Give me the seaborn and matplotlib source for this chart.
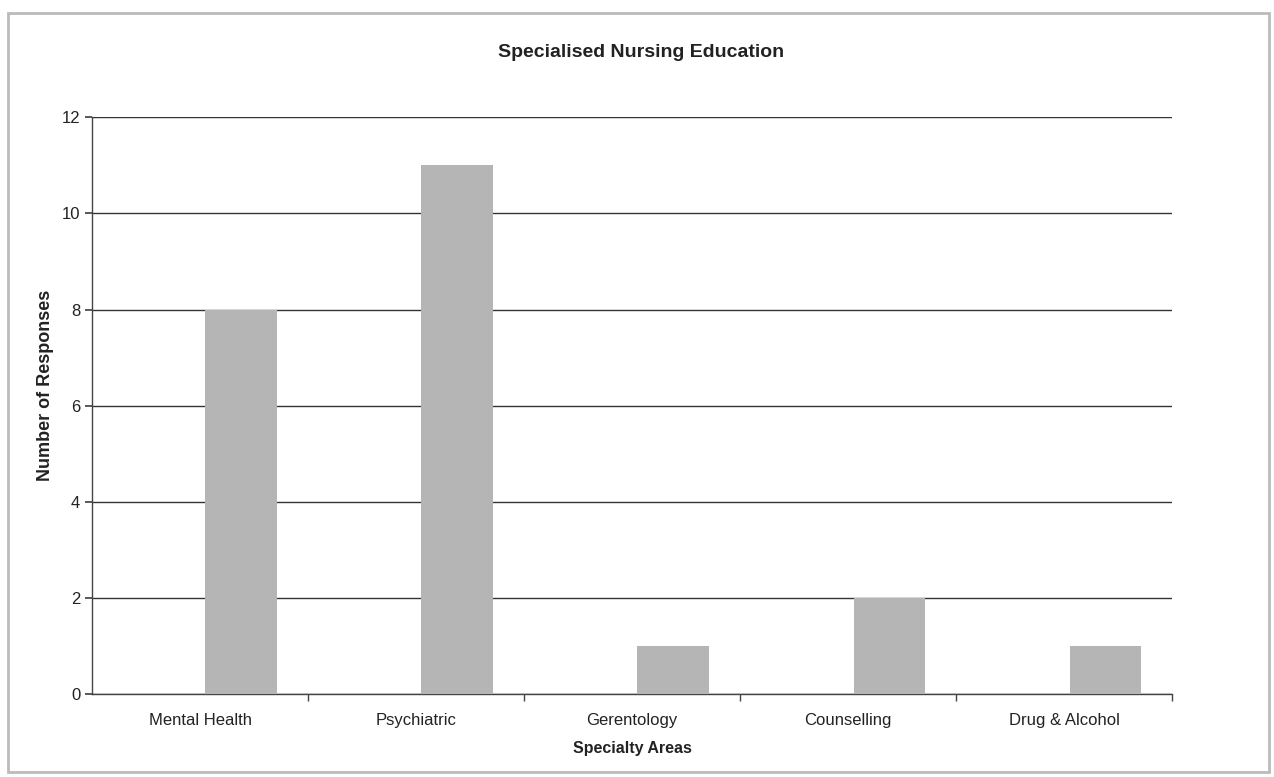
import matplotlib
matplotlib.use("Agg")
import matplotlib.pyplot as plt
import seaborn as sns
import pandas as pd
from matplotlib.patches import Rectangle

categories = ["Mental Health", "Psychiatric", "Gerentology", "Counselling", "Drug & Alcohol"]
responses = [8, 11, 1, 2, 1]
y_ticks = [0, 2, 4, 6, 8, 10, 12]
series_order = ["(blank)", "Responses"]

sns.set_theme(style="white")
plt.rcParams['font.family'] = ['Liberation Sans', 'DejaVu Sans']

df = pd.DataFrame({"Area": categories, "Responses": responses,
                   "Series": ["Responses"] * len(categories)})

fig = plt.figure(figsize=(12.74, 7.77), dpi=100)
ax = fig.add_axes([0.0722, 0.107, 0.848, 0.742])

sns.barplot(data=df, x="Area", y="Responses", hue="Series", hue_order=series_order,
            palette={"(blank)": "#b5b5b5", "Responses": "#b5b5b5"},
            width=0.76, gap=0.13, dodge=True, saturation=1, linewidth=0,
            ax=ax, zorder=3, legend=False)

ax.set_ylim(0, 12)
ax.set_xlim(-0.5, len(categories) - 0.5)
ax.set_yticks(y_ticks)
ax.yaxis.grid(True, color="#333333", linewidth=1.0, zorder=0)
ax.set_axisbelow(True)
for s in ["top", "right"]:
    ax.spines[s].set_visible(False)
for s in ["left", "bottom"]:
    ax.spines[s].set_color("#444444")
    ax.spines[s].set_linewidth(1.0)

ax.tick_params(axis="y", which="major", direction="out", length=5, color="#444444",
               labelsize=12, left=True, labelcolor="#222222")
ax.tick_params(axis="x", which="major", length=0, labelsize=12, pad=14, labelcolor="#222222")
ax.set_xticks([i + 0.5 for i in range(len(categories))], minor=True)
ax.tick_params(axis="x", which="minor", direction="out", length=5, color="#444444", bottom=True)

ax.set_xlabel("Specialty Areas", fontsize=11.5, fontweight="bold", labelpad=9, color="#222222")
ax.set_ylabel("Number of Responses", fontsize=13, fontweight="bold", color="#222222",
              va="center")
ax.yaxis.set_label_coords(-0.043, 0.535)
fig.text(0.503, 0.933, "Specialised Nursing Education", ha="center", va="center",
         fontsize=14, fontweight="bold", color="#222222")

fig.patches.append(Rectangle((0.006, 0.006), 0.99, 0.977, transform=fig.transFigure,
                             fill=False, edgecolor="#bbbbbb", linewidth=2))

fig.savefig("out.png", dpi=100, facecolor="white")
